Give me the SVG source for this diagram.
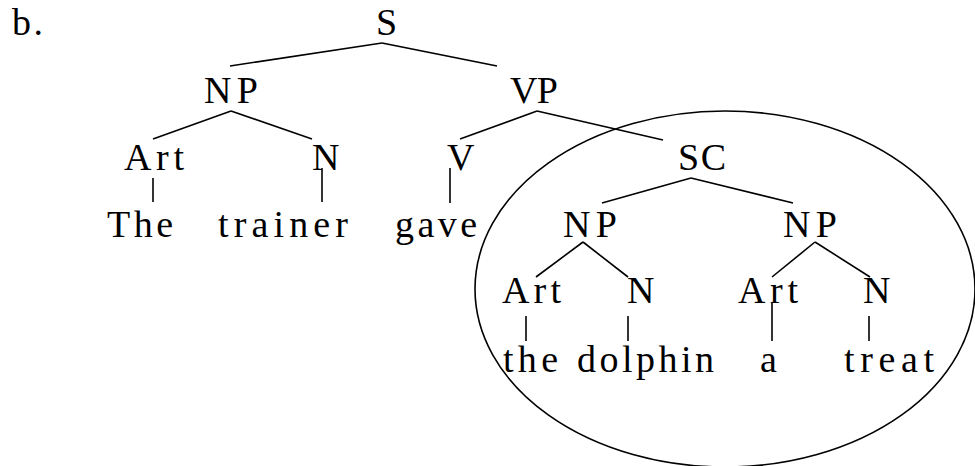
<svg xmlns="http://www.w3.org/2000/svg" width="975" height="466" viewBox="0 0 975 466">
  <style>
    text { font-family: "Liberation Serif", "DejaVu Serif", serif; font-size: 38px; fill: #000; }
    .edge { stroke: #000; stroke-width: 1.6; fill: none; stroke-linecap: butt; }
  </style>
  <rect width="975" height="466" fill="#fff"/>

  <text id="label" x="12" y="35" textLength="31" lengthAdjust="spacing">b.</text>

  <!-- tree branches -->
  <g id="connectors">
    <line class="edge" x1="382" y1="43" x2="230" y2="66"/>
    <line class="edge" x1="382" y1="43" x2="497" y2="66"/>
    <line class="edge" x1="231" y1="111" x2="153" y2="139"/>
    <line class="edge" x1="231" y1="111" x2="312" y2="139"/>
    <line class="edge" x1="537" y1="111" x2="460" y2="139"/>
    <line class="edge" x1="537" y1="111" x2="663" y2="140"/>
    <line class="edge" x1="691" y1="178" x2="602" y2="203"/>
    <line class="edge" x1="691" y1="178" x2="793" y2="203"/>
    <line class="edge" x1="583" y1="242" x2="536" y2="277"/>
    <line class="edge" x1="583" y1="242" x2="628" y2="277"/>
    <line class="edge" x1="815" y1="242" x2="772" y2="277"/>
    <line class="edge" x1="815" y1="242" x2="870" y2="277"/>
    <line class="edge" x1="153" y1="178" x2="153" y2="202"/>
    <line class="edge" x1="322" y1="168" x2="322" y2="202"/>
    <line class="edge" x1="450" y1="168" x2="450" y2="203"/>
    <line class="edge" x1="526" y1="316" x2="526" y2="341"/>
    <line class="edge" x1="628" y1="316" x2="628" y2="341"/>
    <line class="edge" x1="772" y1="302" x2="772" y2="341"/>
    <line class="edge" x1="869" y1="316" x2="869" y2="341"/>
  </g>

  <!-- small clause circled -->
  <ellipse id="sc-circle" cx="725" cy="289" rx="250" ry="178" fill="none" stroke="#000" stroke-width="1.6"/>

  <g id="n-S"><text x="376" y="35">S</text></g>
  <g id="n-NP1"><text x="204" y="103" textLength="54" lengthAdjust="spacing">NP</text></g>
  <g id="n-VP"><text x="510" y="103" textLength="48" lengthAdjust="spacing">VP</text></g>
  <g id="n-Art1"><text x="124" y="170" textLength="60" lengthAdjust="spacing">Art</text></g>
  <g id="n-N1"><text x="312" y="170">N</text></g>
  <g id="n-V"><text x="447" y="170">V</text></g>
  <g id="n-SC"><text x="678" y="170" textLength="48" lengthAdjust="spacing">SC</text></g>
  <g id="w-The"><text x="107" y="237" textLength="66" lengthAdjust="spacing">The</text></g>
  <g id="w-trainer"><text x="218" y="237" textLength="130" lengthAdjust="spacing">trainer</text></g>
  <g id="w-gave"><text x="395" y="237" textLength="82" lengthAdjust="spacing">gave</text></g>
  <g id="n-NP2"><text x="563" y="237" textLength="54" lengthAdjust="spacing">NP</text></g>
  <g id="n-NP3"><text x="783" y="237" textLength="54" lengthAdjust="spacing">NP</text></g>
  <g id="n-Art2"><text x="502" y="303" textLength="59" lengthAdjust="spacing">Art</text></g>
  <g id="n-N2"><text x="627" y="303">N</text></g>
  <g id="n-Art3"><text x="738" y="303" textLength="60" lengthAdjust="spacing">Art</text></g>
  <g id="n-N3"><text x="863" y="303">N</text></g>
  <g id="w-the"><text x="503" y="372" textLength="55" lengthAdjust="spacing">the</text></g>
  <g id="w-dolphin"><text x="577" y="372" textLength="137" lengthAdjust="spacing">dolphin</text></g>
  <g id="w-a"><text x="760" y="372">a</text></g>
  <g id="w-treat"><text x="844" y="372" textLength="90" lengthAdjust="spacing">treat</text></g>
</svg>
